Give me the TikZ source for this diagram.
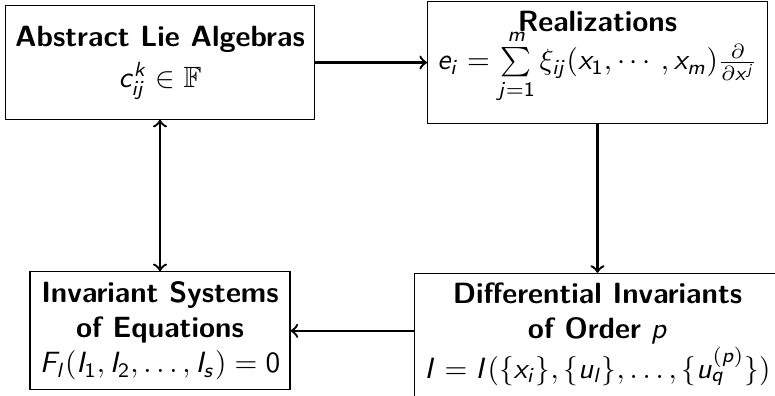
\documentclass[tikz,border=0pt]{standalone}
\usepackage{amsmath,amssymb}
\usepackage{tikz}

% sans serif letters and digits in formulas
\DeclareSymbolFont{sfletters}{OT1}{cmss}{m}{sl}
\DeclareSymbolFont{sfdigits}{OT1}{cmss}{m}{n}
\makeatletter
\count@=`A
\loop \mathcode\count@=\numexpr"7000+\symsfletters*"100+\count@\relax
\ifnum\count@<`Z \advance\count@\@ne \repeat
\count@=`a
\loop \mathcode\count@=\numexpr"7000+\symsfletters*"100+\count@\relax
\ifnum\count@<`z \advance\count@\@ne \repeat
\count@=`0
\loop \mathcode\count@=\numexpr"7000+\symsfdigits*"100+\count@\relax
\ifnum\count@<`9 \advance\count@\@ne \repeat
\makeatother

\begin{document}
\begin{tikzpicture}[box/.style={draw, align=center, font=\sffamily},
  link/.style={thick,->}]
 \useasboundingbox (0,0) rectangle (9.30,4.75);

 \node[box, minimum height=1.36cm] (abstract) at (1.92,4.00)
   {\textbf{Abstract Lie Algebras}\\[2pt] $c_{ij}^k\in\mathbb{F}$};
 \node[box] (realize) at (7.17,4.00)
   {\textbf{Realizations}\\[-1.7pt]
    $e_i=\sum\limits_{j=1}^m\xi_{ij}(x_1,\cdots,x_m)\frac{\partial}{\partial x^j}$\rule[-15pt]{0pt}{15pt}};
 \node[box] (invsys) at (1.92,0.78)
   {\textbf{Invariant Systems}\\ \textbf{of Equations}\\ $F_l(I_1,I_2,\ldots,I_s)=0$};
 \node[box, anchor=north] (diffinv) at (7.17,1.476)
   {\textbf{Differential Invariants}\\ \textbf{of Order} $p$\\
    $I=I(\{x_i\},\{u_l\},\ldots,\{u_q^{(p)}\})$\rule[-8pt]{0pt}{8pt}};

 \draw[link] (abstract) -- (realize);
 \draw[link] (realize) -- (diffinv);
 \draw[link] (invsys.east -| diffinv.west) -- (invsys.east);
 \draw[link,<->] (abstract) -- (invsys);
\end{tikzpicture}
\end{document}
